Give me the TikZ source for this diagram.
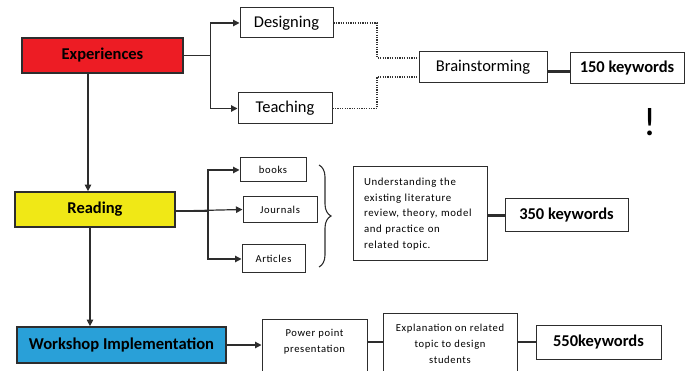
\documentclass[tikz,border=0pt]{standalone}
\usepackage{fontspec}
\setmainfont{Carlito}
\newfontfamily\spaced[LetterSpace=6]{Carlito}
\usetikzlibrary{arrows.meta,decorations.pathreplacing}
\definecolor{expred}{RGB}{237,28,36}
\definecolor{readyellow}{RGB}{240,232,22}
\definecolor{workblue}{RGB}{41,160,216}
\definecolor{edge}{RGB}{45,45,45}
\begin{document}
\begin{tikzpicture}[x=1pt,y=-1pt,
  box/.style={draw=edge,line width=1pt,fill=white,inner sep=0pt,align=center},
  mainbox/.style={draw=edge,line width=1.7pt,inner sep=0pt,font=\bfseries},
  bigtext/.style={font=\fontsize{16.5}{19}\selectfont},
  boldtext/.style={font=\bfseries\fontsize{16.5}{19}\selectfont},
  smalltext/.style={font=\spaced\fontsize{10.6}{16}\selectfont,align=center},
  conn/.style={draw=edge,line width=1.2pt},
  thickconn/.style={draw=edge,line width=2.2pt},
  arr/.style={-{Triangle[length=6.5pt,width=6.5pt]}},
  dotconn/.style={draw=black!80,line width=1.3pt,dash pattern=on 1.2pt off 1.2pt},
]
\useasboundingbox (0,0) rectangle (685,371);
\clip (0,0) rectangle (685,371);

% main boxes
\node[mainbox,fill=expred,minimum width=161pt,minimum height=35pt,font=\bfseries\fontsize{16.5}{19}\selectfont] (exp) at (102.5,55.5) {Experiences};
\node[mainbox,fill=readyellow,minimum width=160pt,minimum height=35pt,font=\bfseries\fontsize{16.5}{19}\selectfont] (read) at (95,209.5) {Reading};
\node[mainbox,fill=workblue,minimum width=209pt,minimum height=36pt,font=\bfseries\fontsize{16.6}{19}\selectfont] (work) at (121.5,345) {Workshop Implementation};

% experiences branch
\node[box,bigtext,minimum width=93pt,minimum height=30pt] (des) at (286.5,23) {Designing};
\node[box,bigtext,minimum width=94pt,minimum height=31pt] (tea) at (285,108.5) {Teaching};
\node[box,bigtext,minimum width=128pt,minimum height=31pt] (brain) at (483,67.5) {Brainstorming};
\node[box,boldtext,minimum width=114pt,minimum height=31pt] (k150) at (627,68.5) {150 keywords};
\node[font=\fontsize{40}{42}\selectfont,inner sep=0pt] (excl) at (650,122) {!};

\draw[conn,arr] (exp.east) -- ++(27,0) |- (des.west);
\draw[conn,arr] (exp.east) -- ++(27,0) |- (tea.west);

\coordinate (dj) at (377,0);
\coordinate (bu) at ([yshift=9.5pt]brain.west);
\coordinate (bd) at ([yshift=-9.5pt]brain.west);
\draw[dotconn] (des.east) -| (dj |- bu) -- (bu);
\draw[dotconn] (tea.east) -| (dj |- bd) -- (bd);
\draw[thickconn] ([yshift=-4pt]brain.east) -- ([yshift=-4pt]brain.east -| k150.west);

% reading branch
\node[box,smalltext,minimum width=66pt,minimum height=24pt] (books) at (273,170) {books};
\node[box,smalltext,minimum width=74pt,minimum height=26pt] (jour) at (280,210) {Journals};
\node[box,smalltext,minimum width=63pt,minimum height=28pt] (art) at (273.5,259) {Articles};
\node[box,font=\spaced\fontsize{10.8}{15.7}\selectfont,align=left,text width=112pt,minimum width=134pt,minimum height=94pt] (und) at (420,214)
  {Understanding the\\existing literature\\review, theory, model\\and practice on\\related topic.};
\node[box,boldtext,minimum width=123pt,minimum height=33pt] (k350) at (566.5,215.5) {350 keywords};

\coordinate (rj) at (208,0);
\draw[draw=edge,line width=2.8pt] ([yshift=-1.5pt]read.east) -- ([yshift=-1.5pt]read.east -| rj);
\draw[conn,arr] ([yshift=-1.5pt]read.east) -- ([yshift=-1.5pt]read.east -| rj) |- (books.west);
\draw[conn,arr] ([yshift=-1.5pt]read.east) -- (jour.west |- read.east);
\draw[conn,arr] ([yshift=-1.5pt]read.east) -- ([yshift=-1.5pt]read.east -| rj) |- (art.west);
\draw[decorate,decoration={brace,amplitude=12pt},line width=1.1pt,draw=edge] (319,165) -- (319,267) node[coordinate] (braceend) {};
\draw[thickconn] (und.east |- k350.west) -- (k350.west);

% workshop branch
\node[box,minimum width=105pt,minimum height=72pt] (ppt) at (314.5,355) {};
\node[smalltext,inner sep=0pt] (ppttext) at (314.5,342) {Power point\\presentation};
\node[box,minimum width=134pt,minimum height=78pt] (expl) at (450,352) {};
\node[smalltext,inner sep=0pt] (expltext) at (450,344) {Explanation on related\\topic to design\\students};
\node[box,boldtext,minimum width=125pt,minimum height=34pt] (k550) at (598.5,342) {550keywords};

\draw[conn,arr] (work.east) -- (work.east -| ppt.west);
\draw[thickconn] (ppt.east |- k550.west) -- (expl.west |- k550.west);
\draw[thickconn] (expl.east |- k550.west) -- (k550.west);

% vertical flow
\draw[conn,arr] (exp.south -| 88,0) -- (read.north -| 88,0);
\draw[conn,arr] (read.south -| 90,0) -- (work.north -| 90,0);
\end{tikzpicture}
\end{document}
